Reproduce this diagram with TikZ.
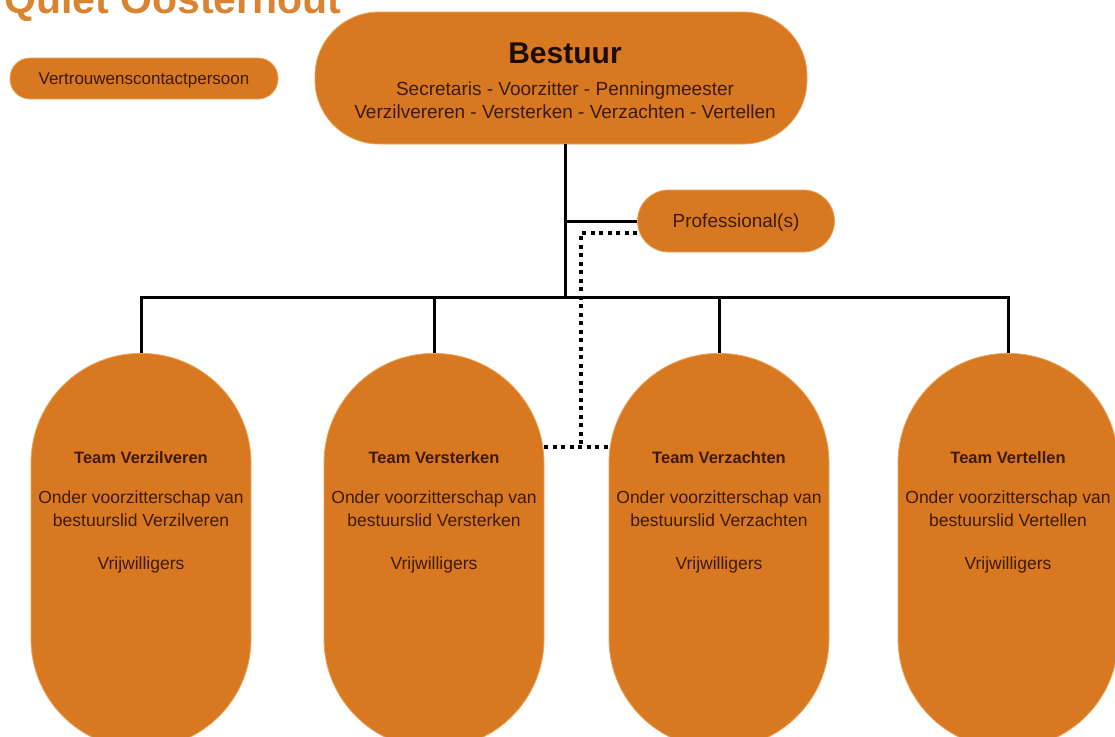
\documentclass[tikz,border=0pt]{standalone}
\usepackage{fontspec}
\setmainfont{Liberation Sans}
\definecolor{org}{RGB}{216,121,33}
\definecolor{orgedge}{RGB}{234,165,90}
\definecolor{txt}{RGB}{62,26,10}
\definecolor{dark}{RGB}{28,12,5}
\definecolor{ttl}{RGB}{218,132,50}
\newcommand\teamtxt[1]{{\fontsize{16.5}{23}\selectfont\bfseries Team #1}\\[17pt]Onder voorzitterschap van\\bestuurslid #1\\[20pt]Vrijwilligers}
\begin{document}
\begin{tikzpicture}[x=1pt,y=-1pt,
  box/.style={fill=org,draw=orgedge,line width=0.8pt,inner sep=0},
  lbl/.style={text=txt,inner sep=0,align=center},
  teambox/.style={box,rounded corners=109.5pt,minimum width=220pt,minimum height=395pt,anchor=north},
  teamlbl/.style={lbl,anchor=north,font=\fontsize{17.5}{23}\selectfont},
  link/.style={line width=3pt,black},
  dotlink/.style={line width=3.5pt,black,dash pattern=on 4pt off 4.5pt}]
\useasboundingbox (0,0) rectangle (1115,736);
\fill[white] (0,0) rectangle (1115,736);
\clip (0,0) rectangle (1115,736);
\node[anchor=base west,text=ttl,inner sep=0,font=\fontsize{41}{45}\selectfont\bfseries] (title) at (4,13) {Quiet Oosterhout};
% nodes
\node[box,rounded corners=20pt,minimum width=268pt,minimum height=41pt] (vcp) at (144,78.5) {};
\node[lbl,font=\fontsize{17}{20}\selectfont,anchor=base] (vcpt) at (144,84) {Vertrouwenscontactpersoon};
\node[box,rounded corners=64pt,minimum width=492pt,minimum height=132pt] (bestuur) at (561,78) {};
\node[lbl,text=dark,font=\fontsize{30}{34}\selectfont\bfseries,anchor=base] (bt) at (565,63) {Bestuur};
\node[lbl,font=\fontsize{19}{23}\selectfont,anchor=base] (bl2) at (565,95) {Secretaris - Voorzitter - Penningmeester};
\node[lbl,font=\fontsize{19}{23}\selectfont,anchor=base] (bl3) at (565,118) {Verzilvereren - Versterken - Verzachten - Vertellen};
\node[box,rounded corners=31pt,minimum width=197pt,minimum height=62pt] (prof) at (736,221) {};
\node[lbl,font=\fontsize{19}{23}\selectfont,anchor=base] (proft) at (736,227) {Professional(s)};
\node[teambox] (team1) at (141,353) {};
\node[teambox] (team2) at (434,353) {};
\node[teambox] (team3) at (719,353) {};
\node[teambox] (team4) at (1008,353) {};
\node[teamlbl] (t1) at (141,451) {\teamtxt{Verzilveren}};
\node[teamlbl] (t2) at (434,451) {\teamtxt{Versterken}};
\node[teamlbl] (t3) at (719,451) {\teamtxt{Verzachten}};
\node[teamlbl] (t4) at (1008,451) {\teamtxt{Vertellen}};
% connectors
\coordinate (hub) at (565,297);
\coordinate (dc) at (581,447);
\draw[link] (bestuur.south -| hub) -- (hub);
\draw[link] (team1.north) -- (team1.north |- hub) -- (team4.north |- hub) -- (team4.north);
\draw[link] (team2.north) -- (team2.north |- hub);
\draw[link] (team3.north) -- (team3.north |- hub);
\draw[link] (hub |- prof.west) -- (prof.west);
\draw[dotlink] ([yshift=-12pt]prof.west) -| (dc);
\draw[dotlink] (team2.east |- dc) -- (team3.west |- dc);
\end{tikzpicture}
\end{document}
